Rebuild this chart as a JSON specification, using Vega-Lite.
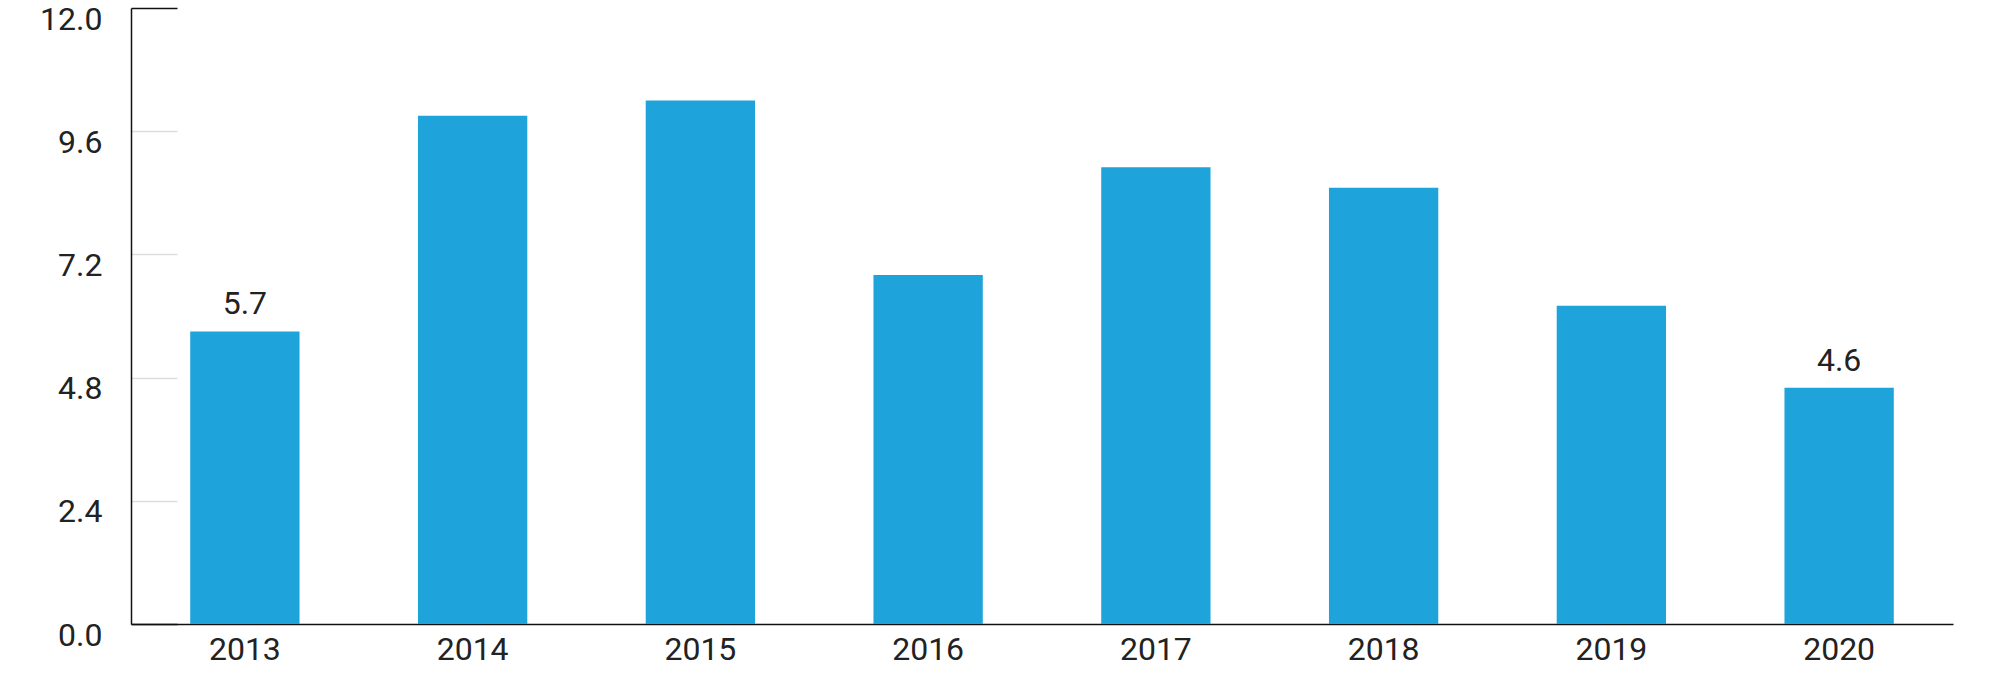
{
  "$schema": "https://vega.github.io/schema/vega-lite/v6.json",
  "autosize": "none",
  "width": 1822,
  "height": 616,
  "padding": {"left": 131, "top": 8, "right": 39, "bottom": 51},
  "background": "#ffffff",
  "config": {
    "view": {"stroke": null},
    "font": "Roboto",
    "axis": {"labelFont": "Roboto", "labelColor": "#222222", "labelFontSize": 32, "domainColor": "#111111", "domainWidth": 1.5, "grid": false}
  },
  "data": {
    "values": [
      {"year": "2013", "value": 5.7, "label": "5.7"},
      {"year": "2014", "value": 9.9, "label": ""},
      {"year": "2015", "value": 10.2, "label": ""},
      {"year": "2016", "value": 6.8, "label": ""},
      {"year": "2017", "value": 8.9, "label": ""},
      {"year": "2018", "value": 8.5, "label": ""},
      {"year": "2019", "value": 6.2, "label": ""},
      {"year": "2020", "value": 4.6, "label": "4.6"}
    ]
  },
  "encoding": {
    "x": {
      "field": "year", "type": "ordinal", "title": null,
      "scale": {"paddingInner": 0.52, "paddingOuter": 0.26},
      "axis": {"labelAngle": 0, "ticks": false, "labelPadding": 10}
    },
    "y": {
      "field": "value", "type": "quantitative", "title": null,
      "scale": {"domain": [0, 12], "nice": false},
      "axis": {
        "values": [0, 2.4, 4.8, 7.2, 9.6, 12],
        "format": ".1f",
        "tickSize": -46,
        "tickWidth": 1.5,
        "tickColor": {"condition": {"test": "datum.value >= 12 || datum.value <= 0", "value": "#111111"}, "value": "#dddddd"},
        "labelPadding": 75,
        "labelOffset": 11,
        "labelBaseline": "middle"
      }
    }
  },
  "layer": [
    {"mark": {"type": "bar", "color": "#1ea4da"}},
    {
      "mark": {"type": "text", "baseline": "bottom", "dy": -10, "fontSize": 32, "color": "#222222", "font": "Roboto"},
      "encoding": {"text": {"field": "label"}}
    }
  ]
}
